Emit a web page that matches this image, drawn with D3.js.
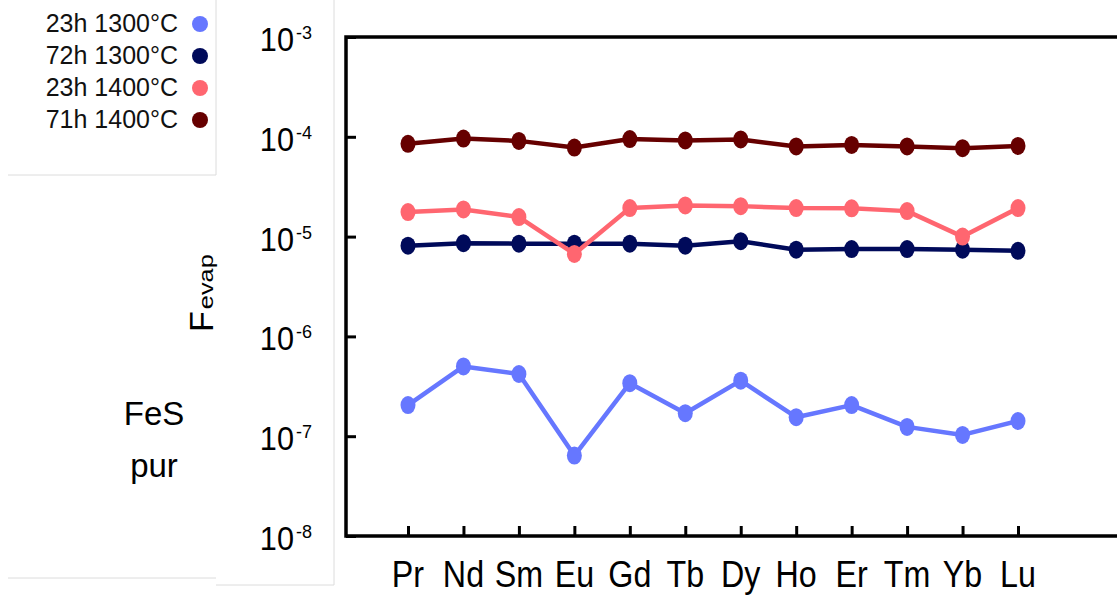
<!DOCTYPE html>
<html><head><meta charset="utf-8">
<script src="https://cdn.jsdelivr.net/npm/d3@7"></script>
<style>body{margin:0;background:#fff}svg{display:block}text{font-family:"Liberation Sans",Arial,sans-serif}</style>
</head><body>
<svg id="c" width="1117" height="597"></svg>
<script>
const categories = ["Pr","Nd","Sm","Eu","Gd","Tb","Dy","Ho","Er","Tm","Yb","Lu"];
const yTickExps = [-3,-4,-5,-6,-7,-8];
const s23h1300 = [2.05e-7,5.0e-7,4.2e-7,6.4e-8,3.4e-7,1.7e-7,3.6e-7,1.55e-7,2.05e-7,1.24e-7,1.03e-7,1.42e-7];
const s72h1300 = [8.1e-6,8.6e-6,8.5e-6,8.5e-6,8.5e-6,8.1e-6,9.0e-6,7.4e-6,7.5e-6,7.5e-6,7.4e-6,7.2e-6];
const s23h1400 = [1.76e-5,1.87e-5,1.57e-5,6.7e-6,1.93e-5,2.05e-5,2.02e-5,1.93e-5,1.92e-5,1.8e-5,1.0e-5,1.93e-5];
const s71h1400 = [8.5e-5,9.6e-5,9.1e-5,7.8e-5,9.5e-5,9.2e-5,9.4e-5,8.0e-5,8.3e-5,8.0e-5,7.7e-5,8.1e-5];
const seriesNames = ["23h 1300°C","72h 1300°C","23h 1400°C","71h 1400°C"];
const seriesColors = ["#6677ff","#000a5a","#ff6670","#660000"];
const seriesData = [s23h1300, s72h1300, s23h1400, s71h1400];

const svg = d3.select("#c");
const L = 346, T = 37, B = 536, R = 1117;
const x = d3.scalePoint().domain(categories).range([408, 1018]);
const y = d3.scaleLog().domain([1e-8, 1e-3]).range([B, T]);

// faint panel borders
const faint = "#dcdcdc";
[[8,175,216,175],[216,0,216,175],[8,578,216,578],[334,0,334,585],[216,585,334,585]].forEach(l=>{
  svg.append("line").attr("x1",l[0]).attr("y1",l[1]).attr("x2",l[2]).attr("y2",l[3]).attr("stroke",faint).attr("stroke-width",1);
});

// y-axis with inner ticks
const yAxis = d3.axisRight(y).tickValues(yTickExps.map(e=>Math.pow(10,e))).tickSize(10).tickFormat("");
const ya = svg.append("g").attr("transform",`translate(${L},0)`).call(yAxis);
ya.select(".domain").remove();
ya.selectAll(".tick line").attr("stroke","#000").attr("stroke-width",3);

// x-axis with ticks pointing up
const xAxis = d3.axisTop(x).tickSize(10).tickFormat("");
const xa = svg.append("g").attr("transform",`translate(0,${B})`).call(xAxis);
xa.select(".domain").remove();
xa.selectAll(".tick line").attr("stroke","#000").attr("stroke-width",3);

// frame lines
svg.append("path").attr("d",`M${R},${T}H${L}V${B}H${R}`).attr("fill","none").attr("stroke","#000").attr("stroke-width",3.5);

// y tick labels
yTickExps.forEach(e=>{
  const yy = y(Math.pow(10,e));
  svg.append("text").attr("x",294).attr("y",yy+14).attr("text-anchor","end")
    .attr("font-size",33).attr("fill","#000")
    .attr("transform",`translate(294,0) scale(0.93,1) translate(-294,0)`).text("10");
  svg.append("text").attr("x",296).attr("y",yy+2).attr("font-size",18).attr("fill","#000").text(String(e));
});

// x labels
categories.forEach(c=>{
  svg.append("text").attr("x",x(c)).attr("y",587).attr("text-anchor","middle")
    .attr("font-size",37.5).attr("fill","#000")
    .attr("transform",`translate(${x(c)},0) scale(0.86,1) translate(${-x(c)},0)`).text(c);
});

// series
const line = d3.line().x((d,i)=>x(categories[i])).y(d=>y(d));
seriesData.forEach((s,k)=>{
  svg.append("path").datum(s).attr("d",line).attr("fill","none").attr("stroke",seriesColors[k]).attr("stroke-width",4.5).attr("stroke-linejoin","round");
  svg.selectAll(null).data(s).enter().append("ellipse")
    .attr("cx",(d,i)=>x(categories[i])).attr("cy",d=>y(d)).attr("rx",7.5).attr("ry",9).attr("fill",seriesColors[k]);
});

// legend
seriesNames.forEach((n,k)=>{
  const base = 32 + k*32;
  svg.append("text").attr("x",178).attr("y",base).attr("text-anchor","end").attr("font-size",25).attr("fill","#111").text(n);
  svg.append("circle").attr("cx",200).attr("cy",base-8).attr("r",8).attr("fill",seriesColors[k]);
});

// y axis title
const yt = svg.append("text").attr("transform","translate(213,332) rotate(-90)").attr("fill","#000");
yt.append("tspan").attr("font-size",34).text("F");
yt.append("tspan").attr("font-size",20).attr("dx",2).attr("textLength",55).attr("lengthAdjust","spacingAndGlyphs").text("evap");

// FeS pur
svg.append("text").attr("x",154).attr("y",425).attr("text-anchor","middle").attr("font-size",33).attr("fill","#000").text("FeS");
svg.append("text").attr("x",154).attr("y",477).attr("text-anchor","middle").attr("font-size",33).attr("fill","#000").text("pur");
</script>
</body></html>
